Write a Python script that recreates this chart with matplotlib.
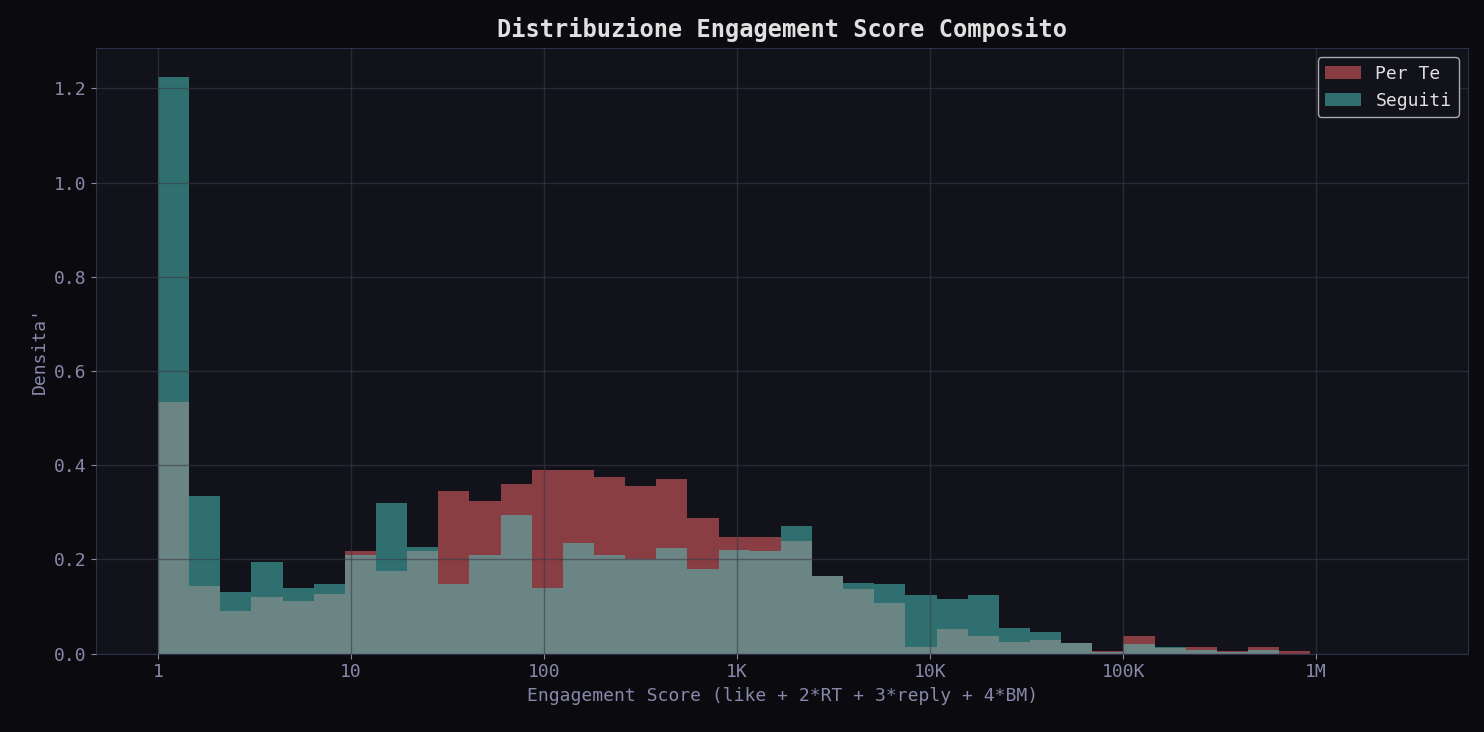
import numpy as np
import matplotlib
matplotlib.use("Agg")
import matplotlib.pyplot as plt
from matplotlib.ticker import FixedLocator, FixedFormatter, NullLocator

plt.rcParams['font.family'] = ['DejaVu Sans Mono']

# log-spaced bins from 1 to ~1M
edges = np.logspace(0, 5.97, 38)

per_te = [0.535, 0.143, 0.09, 0.12, 0.112, 0.127, 0.218, 0.175, 0.218, 0.345,
          0.325, 0.36, 0.39, 0.39, 0.375, 0.355, 0.37, 0.287, 0.248, 0.248,
          0.24, 0.165, 0.138, 0.108, 0.015, 0.052, 0.037, 0.025, 0.03, 0.022,
          0.005, 0.037, 0.013, 0.015, 0.005, 0.015, 0.005]
seguiti = [1.225, 0.335, 0.13, 0.195, 0.14, 0.148, 0.21, 0.32, 0.227, 0.148,
           0.21, 0.295, 0.14, 0.235, 0.21, 0.2, 0.225, 0.18, 0.22, 0.218,
           0.272, 0.165, 0.15, 0.148, 0.125, 0.117, 0.125, 0.055, 0.047, 0.022,
           0.003, 0.02, 0.015, 0.008, 0.003, 0.008, 0.0]

tick_vals = [1, 10, 100, 1e3, 1e4, 1e5, 1e6]
tick_labels = ['1', '10', '100', '1K', '10K', '100K', '1M']

fig = plt.figure(figsize=(14.84, 7.32), dpi=100, facecolor='#0b0b0f')
ax = fig.add_axes([0.065, 0.107, 0.924, 0.827])
ax.set_facecolor('#12121a')

widths = np.diff(edges)
ax.bar(edges[:-1], per_te, width=widths, align='edge', color='#ff6b6b', alpha=0.5, label='Per Te', linewidth=0)
ax.bar(edges[:-1], seguiti, width=widths, align='edge', color='#4ecdc4', alpha=0.5, label='Seguiti', linewidth=0)

ax.set_xscale('log')
ax.set_xlim(0.48, 6.1e6)
ax.set_ylim(0, 1.285)
ax.xaxis.set_major_locator(FixedLocator(tick_vals))
ax.xaxis.set_major_formatter(FixedFormatter(tick_labels))
ax.xaxis.set_minor_locator(NullLocator())
ax.set_yticks(np.arange(0, 1.21, 0.2))
ax.set_yticklabels([f'{v:.1f}' for v in np.arange(0, 1.21, 0.2)])

ax.grid(True, color='#3a3a4a', alpha=0.6, linewidth=1)
ax.set_axisbelow(False)
for s in ax.spines.values():
    s.set_color('#2e2e48')
ax.tick_params(colors='#8888aa', labelsize=13)

ax.set_title('Distribuzione Engagement Score Composito', color='#e0e0e0', fontsize=17, fontweight='bold', pad=8)
ax.set_xlabel('Engagement Score (like + 2*RT + 3*reply + 4*BM)', color='#8888aa', fontsize=13)
ax.set_ylabel("Densita'", color='#8888aa', fontsize=13)

leg = ax.legend(loc='upper right', fontsize=13, facecolor='#12121a', edgecolor='#aaaaaa', labelcolor='#e0e0e0')
leg.get_frame().set_alpha(1)

fig.savefig('out.png', dpi=100, facecolor=fig.get_facecolor())
